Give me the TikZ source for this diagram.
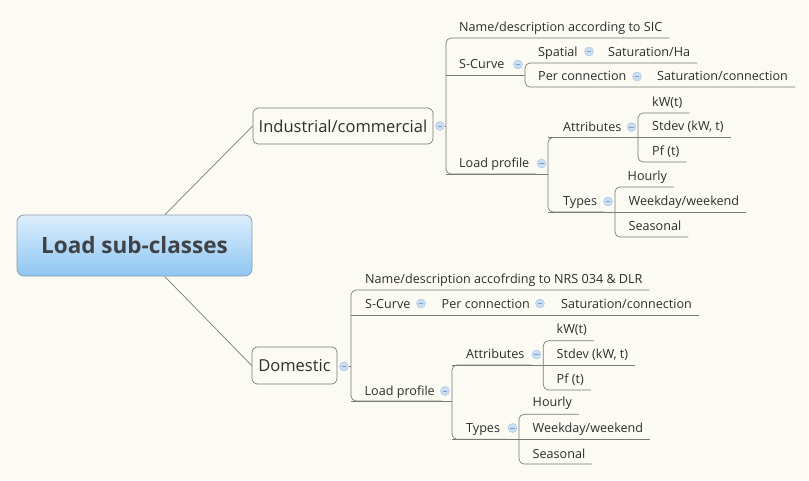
\documentclass[tikz,border=0pt]{standalone}
\usepackage{fontspec}
\setmainfont{Open Sans}
\definecolor{bgc}{HTML}{FBFBF3}
\definecolor{linec}{HTML}{7A7A7A}
\definecolor{txtc}{HTML}{2E2E2E}
\definecolor{roottxt}{HTML}{3F4347}
\definecolor{boxtop}{HTML}{DCEEFC}
\definecolor{boxbot}{HTML}{8EC6F3}
\definecolor{boxline}{HTML}{8C9AA8}
\definecolor{cfill}{HTML}{CADDF2}
\definecolor{cdraw}{HTML}{A9C2E2}
\definecolor{cminus}{HTML}{7C9CC8}
\newcommand\uline[3]{\draw[ln] (#1,#2) -- ([xshift=7pt]#3.east |- #1,#2);}
\newcommand\brk[5]{\draw[br] ([xshift=7pt]#4.east |- #1,#2) -- (#1,#2) -- (#1,#3) -- ([xshift=7pt]#5.east |- #1,#3);}
\begin{document}
\begin{tikzpicture}[x=1pt,y=-1pt,
  lbl/.style={anchor=base west, inner sep=0pt, text=txtc, font=\fontsize{12.6}{14}\selectfont},
  ln/.style={draw=linec, line width=0.7pt},
  br/.style={ln, rounded corners=5pt},
  topic/.style={draw=linec, rounded corners=5pt, fill=bgc, line width=0.7pt, text=txtc,
    font=\fontsize{16.5}{19}\selectfont, inner sep=0pt},
  central/.style={draw=boxline, rounded corners=7pt, top color=boxtop, bottom color=boxbot,
    line width=0.7pt, text=roottxt, font=\fontsize{22.5}{26}\selectfont\bfseries, inner sep=0pt,
    minimum width=235pt, minimum height=61pt},
  coll/.style={circle, fill=cfill, draw=cdraw, line width=0.4pt, minimum size=9pt, inner sep=0pt,
    path picture={\draw[cminus, line width=0.8pt] ([xshift=-2.3pt]path picture bounding box.center) -- ([xshift=2.3pt]path picture bounding box.center);}}
]
\fill[bgc] (0,0) rectangle (809,480);
\useasboundingbox (0,0) rectangle (809,480);

% central and main topics
\node[central] (root) at (134.5,245.5) {Load sub-classes};
\node[topic, minimum width=180pt, minimum height=36pt] (ind) at (343,126) {Industrial/commercial};
\node[topic, minimum width=85pt, minimum height=37pt] (dom) at (294.5,365.5) {Domestic};
\draw[ln] (root) -- (ind.west);
\draw[ln] (root) -- (dom.west);

% ---------------- Industrial/commercial ----------------
\node[coll] (cInd) at (440,126) {};
\node[lbl] (n1) at (459,31.5) {Name/description according to SIC};
\node[lbl] (sc1) at (459,68.5) {S-Curve};
\node[coll] (cSc1) at (518,64.5) {};
\node[lbl] (sp1) at (538,56) {Spatial};
\node[coll] (cSp1) at (589,51.5) {};
\node[lbl] (sh1) at (608,56) {Saturation/Ha};
\node[lbl] (pc1) at (538,80.5) {Per connection};
\node[coll] (cPc1) at (637,76.5) {};
\node[lbl] (sct1) at (657,80.5) {Saturation/connection};
\node[lbl] (lp1) at (459,167) {Load profile};
\node[coll] (cLp1) at (541.5,163.5) {};
\node[lbl] (at1) at (563,131) {Attributes};
\node[coll] (cAt1) at (631.5,127) {};
\node[lbl] (kw1) at (652,106) {kW(t)};
\node[lbl] (sd1) at (652,130.5) {Stdev (kW, t)};
\node[lbl] (pf1) at (652,155) {Pf (t)};
\node[lbl] (ty1) at (563,205) {Types};
\node[coll] (cTy1) at (608,201.5) {};
\node[lbl] (ho1) at (627.5,180.5) {Hourly};
\node[lbl] (wk1) at (628.5,205) {Weekday/weekend};
\node[lbl] (se1) at (628.5,230.5) {Seasonal};

\draw[ln] (cInd) -- (446,126);
\brk{446}{38}{174}{n1}{lp1}
\draw[ln] (446,75) -- (525,75);
\brk{525}{63}{87}{sh1}{sct1}
\draw[ln] (446,174) -- (548,174);
\brk{548}{137.5}{212}{at1}{ty1}
\draw[ln] (548,137.5) -- (638,137.5);
\brk{638}{113}{162}{kw1}{pf1}
\uline{638}{137.5}{sd1}
\draw[ln] (548,212) -- (615,212);
\brk{615}{187}{237}{ho1}{se1}
\uline{615}{212}{wk1}

% ---------------- Domestic ----------------
\node[coll] (cDom) at (344,366.5) {};
\node[lbl] (n2) at (365,283) {Name/description accofrding to NRS 034 \& DLR};
\node[lbl] (sc2) at (365,308.5) {S-Curve};
\node[coll] (cSc2) at (421,303.5) {};
\node[lbl] (pc2) at (441.5,308.5) {Per connection};
\node[coll] (cPc2) at (540,303.5) {};
\node[lbl] (sct2) at (561,308.5) {Saturation/connection};
\node[lbl] (lp2) at (364.5,395) {Load profile};
\node[coll] (cLp2) at (445,391) {};
\node[lbl] (at2) at (466,358.5) {Attributes};
\node[coll] (cAt2) at (536.5,354.5) {};
\node[lbl] (kw2) at (556.5,333.5) {kW(t)};
\node[lbl] (sd2) at (556.5,358.5) {Stdev (kW, t)};
\node[lbl] (pf2) at (556.5,383.5) {Pf (t)};
\node[lbl] (ty2) at (466,432) {Types};
\node[coll] (cTy2) at (512.5,428) {};
\node[lbl] (ho2) at (532.5,406.5) {Hourly};
\node[lbl] (wk2) at (532.5,432) {Weekday/weekend};
\node[lbl] (se2) at (532.5,458) {Seasonal};

\draw[ln] (cDom) -- (351,366.5);
\brk{351}{290}{401}{n2}{lp2}
\uline{351}{315}{sct2}
\draw[ln] (351,401) -- (452,401);
\brk{452}{365}{439.3}{at2}{ty2}
\draw[ln] (452,365) -- (543.3,365);
\brk{543.3}{340.7}{390}{kw2}{pf2}
\uline{543.3}{365}{sd2}
\draw[ln] (452,439.3) -- (519,439.3);
\brk{519}{414.3}{464}{ho2}{se2}
\uline{519}{439.3}{wk2}
\end{tikzpicture}
\end{document}
